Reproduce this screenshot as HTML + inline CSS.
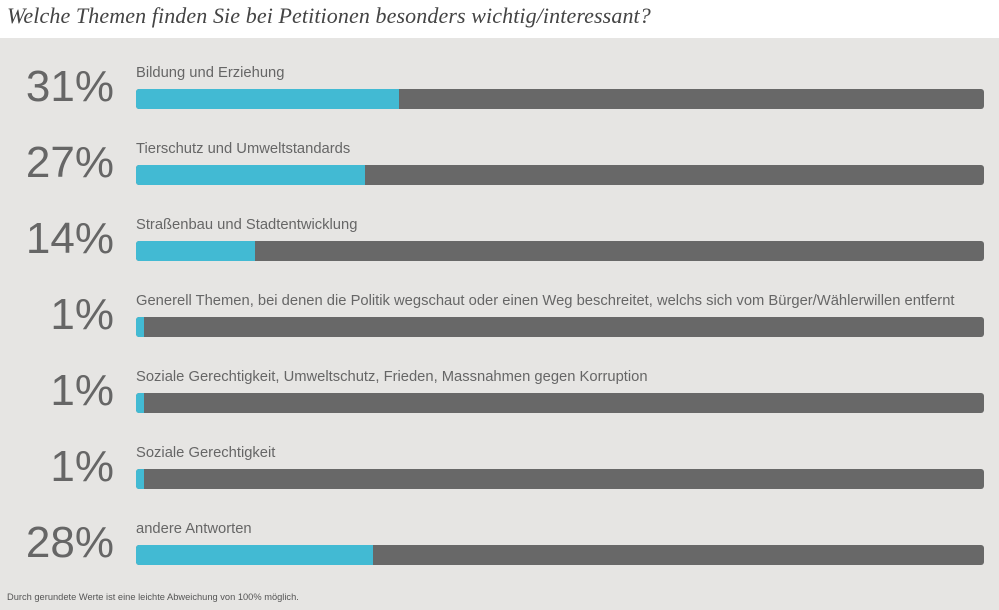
<!DOCTYPE html>
<html><head><meta charset="utf-8"><style>
body{margin:0;width:999px;height:610px;background:#fff;position:relative;overflow:hidden;font-family:"Liberation Sans",sans-serif}
.t{position:absolute;left:7px;top:3px;font:italic 22px "Liberation Serif",serif;color:#444;letter-spacing:0.1px}
.bg{position:absolute;left:0;top:38px;width:999px;height:572px;background:#e6e5e3}
.p{position:absolute;width:114px;text-align:right;font-size:44px;color:#666;line-height:44px}
.l{position:absolute;left:136px;font-size:14.75px;color:#666;line-height:16px}
.b{position:absolute;left:136px;width:848px;height:20px;background:#686868;border-radius:3px;overflow:hidden}
.b i{display:block;height:20px;background:#42bad3}
.f{position:absolute;left:7px;top:592px;font-size:9.3px;color:#555}
</style></head><body>
<div class="t">Welche Themen finden Sie bei Petitionen besonders wichtig/interessant?</div>
<div class="bg"></div>
<div class="p" style="top:65px">31%</div><div class="l" style="top:65px">Bildung und Erziehung</div><div class="b" style="top:89px"><i style="width:263px"></i></div>
<div class="p" style="top:141px">27%</div><div class="l" style="top:141px">Tierschutz und Umweltstandards</div><div class="b" style="top:165px"><i style="width:229px"></i></div>
<div class="p" style="top:217px">14%</div><div class="l" style="top:217px">Straßenbau und Stadtentwicklung</div><div class="b" style="top:241px"><i style="width:119px"></i></div>
<div class="p" style="top:293px">1%</div><div class="l" style="top:293px">Generell Themen, bei denen die Politik wegschaut oder einen Weg beschreitet, welchs sich vom Bürger/Wählerwillen entfernt</div><div class="b" style="top:317px"><i style="width:8px"></i></div>
<div class="p" style="top:369px">1%</div><div class="l" style="top:369px">Soziale Gerechtigkeit, Umweltschutz, Frieden, Massnahmen gegen Korruption</div><div class="b" style="top:393px"><i style="width:8px"></i></div>
<div class="p" style="top:445px">1%</div><div class="l" style="top:445px">Soziale Gerechtigkeit</div><div class="b" style="top:469px"><i style="width:8px"></i></div>
<div class="p" style="top:521px">28%</div><div class="l" style="top:521px">andere Antworten</div><div class="b" style="top:545px"><i style="width:237px"></i></div>
<div class="f">Durch gerundete Werte ist eine leichte Abweichung von 100% möglich.</div>
</body></html>
